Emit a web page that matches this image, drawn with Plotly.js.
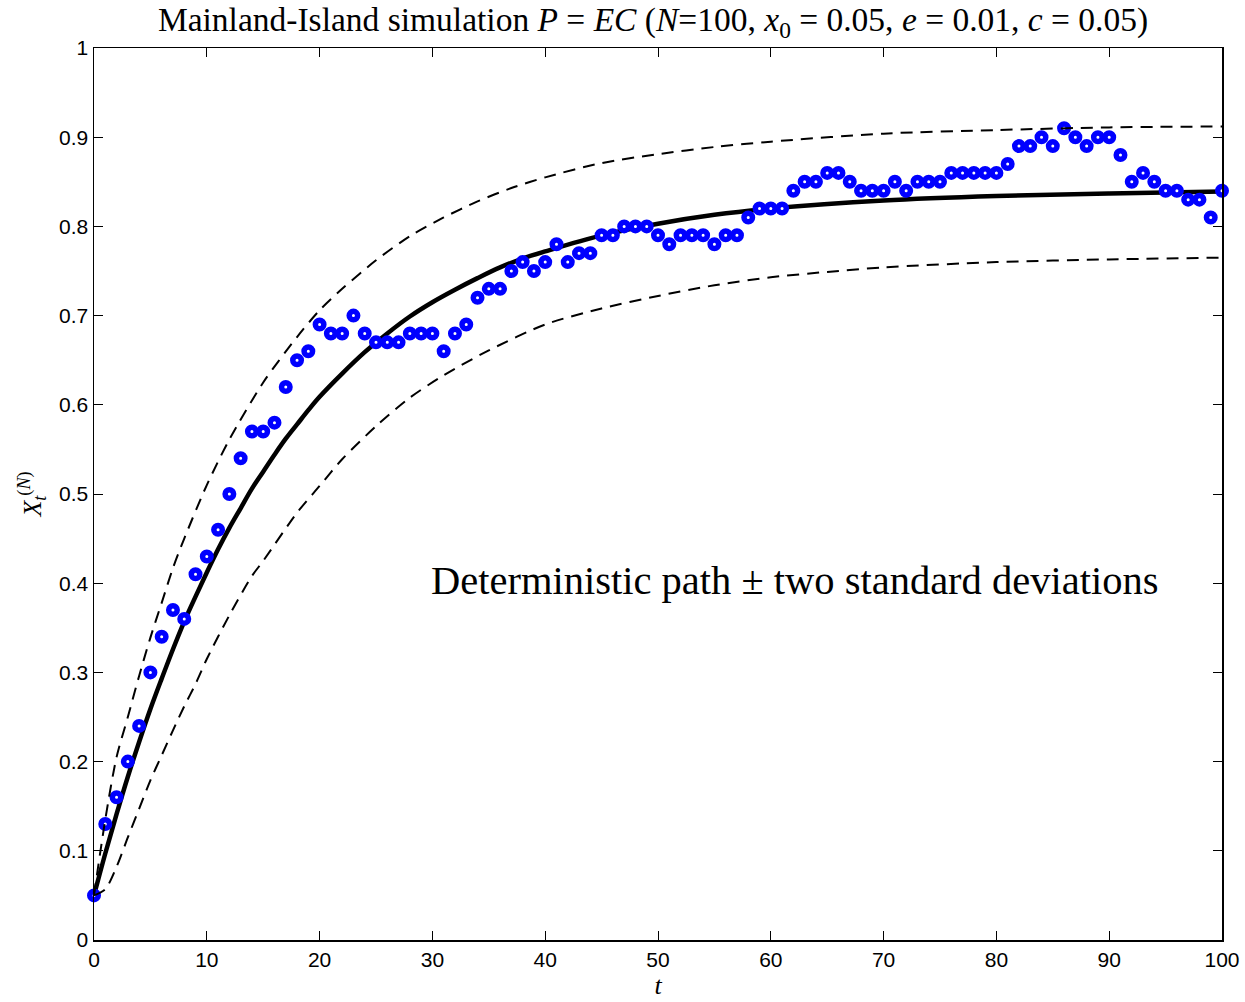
<!DOCTYPE html>
<html>
<head>
<meta charset="utf-8">
<script src="https://cdn.plot.ly/plotly-3.0.1.min.js"></script>
<style>html,body{margin:0;padding:0;background:#fff;}#chart{width:1245px;height:1002px;}</style>
</head>
<body>
<div id="chart"></div>
<script>
// Simulated path (t = 0..100)
const simT = Array.from({length: 101}, (_, i) => i);
const simX = [
  0.05, 0.13, 0.16, 0.20, 0.24, 0.30, 0.34, 0.37, 0.36, 0.41,
  0.43, 0.46, 0.50, 0.54, 0.57, 0.57, 0.58, 0.62, 0.65, 0.66,
  0.69, 0.68, 0.68, 0.70, 0.68, 0.67, 0.67, 0.67, 0.68, 0.68,
  0.68, 0.66, 0.68, 0.69, 0.72, 0.73, 0.73, 0.75, 0.76, 0.75,
  0.76, 0.78, 0.76, 0.77, 0.77, 0.79, 0.79, 0.80, 0.80, 0.80,
  0.79, 0.78, 0.79, 0.79, 0.79, 0.78, 0.79, 0.79, 0.81, 0.82,
  0.82, 0.82, 0.84, 0.85, 0.85, 0.86, 0.86, 0.85, 0.84, 0.84,
  0.84, 0.85, 0.84, 0.85, 0.85, 0.85, 0.86, 0.86, 0.86, 0.86,
  0.86, 0.87, 0.89, 0.89, 0.90, 0.89, 0.91, 0.90, 0.89, 0.90,
  0.90, 0.88, 0.85, 0.86, 0.85, 0.84, 0.84, 0.83, 0.83, 0.81,
  0.84
];

// Deterministic path
const detT = [0, 1, 2, 3, 4, 5, 6, 7, 8, 9, 10, 11, 12, 13, 14, 15, 16, 17, 18, 19, 20,
              22, 24, 26, 28, 30, 32, 34, 36, 38, 40, 45, 50, 55, 60, 70, 80, 90, 100];
const detX = [0.050, 0.097, 0.141, 0.183, 0.222, 0.259, 0.293, 0.326, 0.357, 0.385, 0.412,
              0.438, 0.462, 0.484, 0.506, 0.525, 0.544, 0.562, 0.578, 0.594, 0.609,
              0.635, 0.659, 0.680, 0.699, 0.715, 0.729, 0.742, 0.754, 0.764, 0.772,
              0.790, 0.803, 0.813, 0.820, 0.829, 0.834, 0.837, 0.839];

// Upper band (deterministic + 2 sd)
const upT = [0, 1, 2, 3, 4, 5, 6, 7, 8, 10, 12, 15, 18, 20, 22, 25, 28, 31, 34, 37, 40, 45, 50, 55, 60, 70, 80, 90, 100];
const upX = [0.05, 0.135, 0.205, 0.250, 0.296, 0.339, 0.378, 0.417, 0.450, 0.510, 0.561, 0.625, 0.676, 0.706, 0.730, 0.762, 0.789, 0.810, 0.828, 0.843, 0.855, 0.871, 0.881, 0.889, 0.895, 0.904, 0.908, 0.911, 0.912];

// Lower band (deterministic - 2 sd)
const loT = [0, 1, 2, 3, 4, 5, 6, 7, 8, 9, 10, 12, 14, 15, 18, 20, 22, 25, 28, 31, 35, 40, 45, 50, 55, 60, 65, 70, 80, 90, 100];
const loX = [0.05, 0.057, 0.082, 0.115, 0.147, 0.179, 0.207, 0.235, 0.262, 0.287, 0.315, 0.364, 0.408, 0.425, 0.479, 0.509, 0.539, 0.576, 0.608, 0.633, 0.661, 0.690, 0.708, 0.722, 0.734, 0.743, 0.749, 0.754, 0.760, 0.763, 0.765];

const yTicks = [0, 0.1, 0.2, 0.3, 0.4, 0.5, 0.6, 0.7, 0.8, 0.9, 1];
const yTickText = ['0', '0.1', '0.2', '0.3', '0.4', '0.5', '0.6', '0.7', '0.8', '0.9', '1'];
const xTicks = [0, 10, 20, 30, 40, 50, 60, 70, 80, 90, 100];

const serif = '"Liberation Serif", "DejaVu Serif", serif';
const sans = '"Liberation Sans", Arial, sans-serif';

const traces = [
  {x: detT, y: detX, type: 'scatter', mode: 'lines',
   line: {color: '#000', width: 4.5, shape: 'spline', smoothing: 1}, hoverinfo: 'skip'},
  {x: simT, y: simX, type: 'scatter', mode: 'markers', cliponaxis: false,
   marker: {symbol: 'circle', size: 8.5, color: '#ffffff', line: {color: '#0000ff', width: 5.5}}},
  {x: upT, y: upX, type: 'scatter', mode: 'lines',
   line: {color: '#000', width: 2, dash: '12px,8px', shape: 'spline', smoothing: 0.8}},
  {x: loT, y: loX, type: 'scatter', mode: 'lines',
   line: {color: '#000', width: 2, dash: '12px,8px', shape: 'spline', smoothing: 0.8}}
];

const layout = {
  width: 1245, height: 1002,
  margin: {l: 94, r: 23, t: 48, b: 62},
  paper_bgcolor: '#fff', plot_bgcolor: '#fff',
  showlegend: false,
  title: {
    text: 'Mainland-Island simulation <i>P</i> = <i>EC</i> (<i>N</i>=100, <i>x</i><sub>0</sub> = 0.05, <i>e</i> = 0.01, <i>c</i> = 0.05)',
    font: {family: serif, size: 33.5, color: '#000'},
    x: 0.5245, xanchor: 'center', y: 0.981, yanchor: 'middle'
  },
  xaxis: {
    range: [0, 100], tickvals: xTicks, ticktext: xTicks.map(String),
    ticks: 'inside', ticklen: 9, tickwidth: 1, tickcolor: '#000',
    showline: true, linecolor: '#000', linewidth: 1.5, mirror: 'ticks',
    showgrid: false, zeroline: false,
    tickfont: {family: sans, size: 21, color: '#000'},
    title: {text: '<i>t</i>', font: {family: serif, size: 26, color: '#000'}, standoff: 6}
  },
  yaxis: {
    range: [0, 1], tickvals: yTicks, ticktext: yTickText,
    ticks: 'inside', ticklen: 9, tickwidth: 1, tickcolor: '#000',
    showline: true, linecolor: '#000', linewidth: 1.5, mirror: 'ticks',
    showgrid: false, zeroline: false,
    tickfont: {family: sans, size: 21, color: '#000'},
    title: {text: '<i>X</i><sub><i>t</i></sub><sup>(<i>N</i>)</sup>', font: {family: serif, size: 26, color: '#000'}, standoff: 10}
  },
  annotations: [{
    x: 62.1, y: 0.4025, xref: 'x', yref: 'y', showarrow: false,
    text: 'Deterministic path ± two standard deviations',
    font: {family: serif, size: 40.5, color: '#000'}, xanchor: 'center', yanchor: 'middle'
  }]
};

Plotly.newPlot('chart', traces, layout, {displayModeBar: false, staticPlot: true});
</script>
</body>
</html>
